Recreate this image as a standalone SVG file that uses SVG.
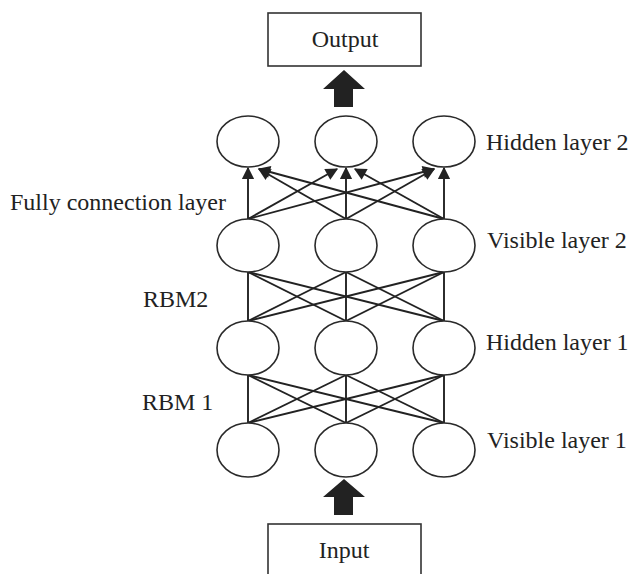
<svg xmlns="http://www.w3.org/2000/svg" width="632" height="574" viewBox="0 0 632 574">
<defs>
<style>
.t{font-family:"Liberation Serif","Times New Roman",serif;font-size:24px;fill:#222}
.n{fill:#fff;stroke:#2a2a2a;stroke-width:1.6}
.b{fill:#fff;stroke:#333;stroke-width:1.6}
.c{stroke:#222;stroke-width:1.9;fill:none}
.a{stroke:#222;stroke-width:1.9;fill:none;marker-end:url(#ah)}
.big{fill:#222}
</style>
<marker id="ah" viewBox="0 0 10 10" refX="9" refY="5" markerWidth="7" markerHeight="6.5" orient="auto" markerUnits="strokeWidth">
<path d="M0,0 L10,5 L0,10 z" fill="#222"/>
</marker>
</defs>
<rect width="632" height="574" fill="#fff"/>

<g id="connectors">
<line class="c" x1="248" y1="423" x2="248" y2="375"/>
<line class="c" x1="248" y1="423" x2="346" y2="375"/>
<line class="c" x1="248" y1="423" x2="444" y2="375"/>
<line class="c" x1="346" y1="423" x2="248" y2="375"/>
<line class="c" x1="346" y1="423" x2="346" y2="375"/>
<line class="c" x1="346" y1="423" x2="444" y2="375"/>
<line class="c" x1="444" y1="423" x2="248" y2="375"/>
<line class="c" x1="444" y1="423" x2="346" y2="375"/>
<line class="c" x1="444" y1="423" x2="444" y2="375"/>
<line class="c" x1="248" y1="321" x2="248" y2="272"/>
<line class="c" x1="248" y1="321" x2="346" y2="272"/>
<line class="c" x1="248" y1="321" x2="444" y2="272"/>
<line class="c" x1="346" y1="321" x2="248" y2="272"/>
<line class="c" x1="346" y1="321" x2="346" y2="272"/>
<line class="c" x1="346" y1="321" x2="444" y2="272"/>
<line class="c" x1="444" y1="321" x2="248" y2="272"/>
<line class="c" x1="444" y1="321" x2="346" y2="272"/>
<line class="c" x1="444" y1="321" x2="444" y2="272"/>
<line class="a" x1="248" y1="219" x2="248" y2="168"/>
<line class="a" x1="346" y1="219" x2="259" y2="169"/>
<line class="a" x1="444" y1="219" x2="259" y2="169"/>
<line class="a" x1="248" y1="219" x2="337" y2="169"/>
<line class="a" x1="346" y1="219" x2="346" y2="168"/>
<line class="a" x1="444" y1="219" x2="355" y2="169"/>
<line class="a" x1="248" y1="219" x2="434" y2="169"/>
<line class="a" x1="346" y1="219" x2="434" y2="169"/>
<line class="a" x1="444" y1="219" x2="444" y2="168"/>
<path class="big" d="M344,70 L365,89 L353,89 L353,107 L334,107 L334,89 L323,89 z"/>
<path class="big" d="M344,479 L365,497 L353,497 L353,515 L334,515 L334,497 L323,497 z"/>
</g>

<g id="output"><rect class="b" x="268" y="13" width="153" height="53"/><text class="t" x="345" y="47" text-anchor="middle">Output</text></g>
<g id="input"><rect class="b" x="268" y="524" width="153" height="70"/><text class="t" x="344" y="558" text-anchor="middle">Input</text></g>

<g id="h2a"><ellipse class="n" cx="248" cy="141.5" rx="31" ry="25.5"/></g>
<g id="h2b"><ellipse class="n" cx="346" cy="141.5" rx="31" ry="25.5"/></g>
<g id="h2c"><ellipse class="n" cx="444" cy="141.5" rx="31" ry="25.5"/></g>
<g id="v2a"><ellipse class="n" cx="248" cy="245.5" rx="31" ry="26.5"/></g>
<g id="v2b"><ellipse class="n" cx="346" cy="245.5" rx="31" ry="26.5"/></g>
<g id="v2c"><ellipse class="n" cx="444" cy="245.5" rx="31" ry="26.5"/></g>
<g id="h1a"><ellipse class="n" cx="248" cy="348" rx="31" ry="27"/></g>
<g id="h1b"><ellipse class="n" cx="346" cy="348" rx="31" ry="27"/></g>
<g id="h1c"><ellipse class="n" cx="444" cy="348" rx="31" ry="27"/></g>
<g id="v1a"><ellipse class="n" cx="248" cy="450" rx="31" ry="27"/></g>
<g id="v1b"><ellipse class="n" cx="346" cy="450" rx="31" ry="27"/></g>
<g id="v1c"><ellipse class="n" cx="444" cy="450" rx="31" ry="27"/></g>

<g id="labels">
<text class="t" x="486" y="150">Hidden layer 2</text>
<text class="t" x="487" y="248">Visible layer 2</text>
<text class="t" x="486" y="350">Hidden layer 1</text>
<text class="t" x="487" y="448">Visible layer 1</text>
<text class="t" x="10" y="210">Fully connection layer</text>
<text class="t" x="143" y="307">RBM2</text>
<text class="t" x="142" y="410">RBM 1</text>
</g>
</svg>
